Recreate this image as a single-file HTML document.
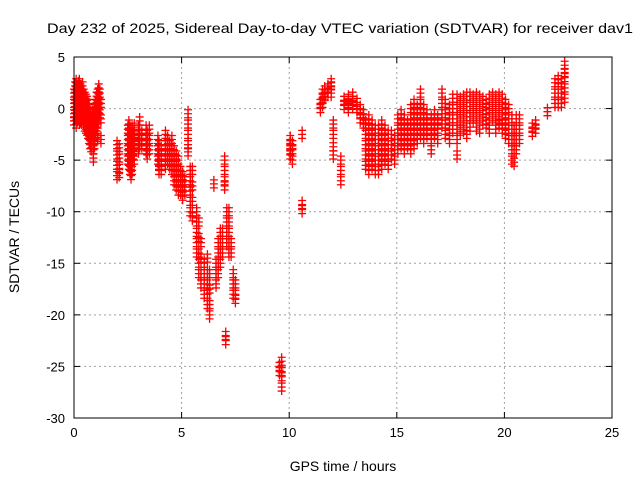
<!DOCTYPE html>
<html><head><meta charset="utf-8"><style>
html,body{margin:0;padding:0;background:#fff;}
svg{display:block;font-family:"Liberation Sans",sans-serif;}
</style></head><body>
<svg id="chart" width="640" height="480" viewBox="0 0 640 480" xmlns="http://www.w3.org/2000/svg">
<rect width="640" height="480" fill="#fff"/>
<text x="340" y="33" font-size="14" text-anchor="middle" textLength="586" lengthAdjust="spacingAndGlyphs">Day 232 of 2025, Sidereal Day-to-day VTEC variation (SDTVAR) for receiver dav1</text>
<text x="0" y="0" font-size="14" text-anchor="middle" transform="translate(19,237) rotate(-90)">SDTVAR / TECUs</text>
<text x="343" y="471" font-size="14" text-anchor="middle">GPS time / hours</text>
<g id="grid"></g><g id="ticks"></g><g id="marks"></g>
<rect x="74" y="57" width="538" height="361" fill="none" stroke="#000" stroke-width="1"/>
</svg>
<script>
const xTicks=[0,5,10,15,20,25];
const yTicks=[5,0,-5,-10,-15,-20,-25,-30];
const hours=[0.00,0.05,0.10,0.15,0.20,0.25,0.30,0.35,0.40,0.45,0.50,0.55,0.60,0.65,0.70,0.75,0.80,0.85,0.90,0.95,1.00,1.05,1.10,1.15,1.20,1.25,
2.00,2.10,2.50,2.55,2.60,2.65,2.70,2.75,2.80,3.00,3.05,3.15,3.35,3.40,3.50,3.90,3.95,4.05,4.25,4.35,4.45,4.55,4.65,4.75,4.85,4.95,5.05,5.15,5.30,5.40,5.50,5.70,5.80,5.90,6.05,6.20,6.30,6.50,6.60,6.70,6.80,6.90,7.00,7.05,7.10,7.20,7.30,7.40,7.50,
9.55,9.65,10.05,10.15,10.6,11.45,11.55,11.65,11.80,11.95,12.05,12.40,12.55,12.75,12.95,13.15,13.30,13.45,13.55,13.70,13.85,14.00,14.15,14.30,14.45,14.60,14.75,14.90,
15.05,15.20,15.35,15.50,15.65,15.80,15.95,16.10,16.25,16.40,16.60,16.75,16.90,17.10,17.25,17.45,17.60,17.80,17.95,18.10,18.25,18.40,18.55,18.70,18.85,19.00,19.15,19.30,19.45,19.60,19.75,19.90,20.05,20.20,20.35,20.45,20.55,20.70,21.30,21.45,22.00,22.35,22.50,22.65,22.80];
const sdtvar=[[1.5,0.5,-0.5,-1.2],[2.2,1.2,0.2,-0.8],[2.5,1.5,0.5,-0.5,-1.5],[2.0,1.0,0,-1.0],[2.3,1.3,0.3,-0.7],[2.5,1.6,0.6,-0.4,-1.2],[2.0,1.0,0,-1.0],[1.8,0.8,-0.2,-1.2],[2.2,1.2,0.2,-0.8],[1.5,0.5,-0.5,-1.4],[1.2,0.2,-0.8,-1.8],[1.0,0,-1.0,-2.0],[0.8,-0.2,-1.2,-2.2],[0.5,-0.5,-1.5,-2.5],[0,-1.0,-2.0,-3.0],[-0.5,-1.5,-2.5,-3.5],[-1,-2,-3,-3.8],[-0.5,-1.5,-2.5],[-1,-2,-3,-4,-4.8],[0,-1,-2,-3.5],[0.5,-0.5,-1.5,-2.5],[1.2,0.2,-0.8,-1.8],[1.5,0.5,-0.5,-1.5,-2.8],[2.0,1.0,0,-1.0],[1.5,0.5,-0.5],[0.5,-1.0,-3],
[-3.5,-4.5,-5.5,-6.5],[-3.8,-4.8,-5.8,-6.3],[-2,-3,-4,-5],[-1.5,-2.5,-3.5,-4.5,-5.5],[-2,-3,-4,-5,-6],[-2.5,-3.5,-4.5,-5.5,-6.5],[-2,-3,-4,-5,-6],[-2.5,-3.5,-4.5],[-1.8,-2.8,-3.8,-5],[-2,-3,-4],[-1.2,-2.5,-3.5],[-2.5,-3.5],[-2,-3,-4],[-2.5,-3.5,-4.5],[-2,-3,-4],[-3,-4,-5],[-3.5,-4.5,-5.5,-6],[-4,-5,-6],[-2.5,-3.5,-4.5,-5.5],[-3,-4,-5],[-3.5,-4.5,-5.5],[-3,-4,-5,-6],[-4,-5,-6,-7],[-4.5,-5.5,-6.5,-7.5],[-5,-6,-7,-8],[-6,-7,-8],[-6.5,-7.5,-8.5],[-7,-8],[-0.5,-1.5,-2.5,-3.5,-4.2],[-6,-7,-8,-9,-10],[-6,-7.5,-9,-10.5],[-10,-11,-12,-13,-14],[-11,-12.5,-14,-15,-16],[-13,-14.5,-16,-17],[-15,-16,-17,-18],[-14.5,-16,-17,-18,-19],[-16,-17.5,-19,-20],[-7.3],[-17,-16,-15],[-16,-15,-14,-13],[-15,-14,-13,-12],[-14,-13,-12],[-5,-6,-7,-7.5],[-22,-22.5],[-13,-12,-11,-10],[-14,-13,-12,-11,-10],[-14,-13],[-16,-17,-18],[-17,-18,-18.5],
[-25,-25.5],[-24.5,-25.5,-26,-27],[-3,-3.5,-4,-4.5],[-3.5,-4,-5],[-2.5,-9.3,-9.8],[0,0.5],[0.5,1,1.5],[1.2,1.8],[1.5,2.0],[1.5,2.5,2.2],[-1.5,-2.5,-3.7,-4.5],[-5,-6,-7],[0.3,0.8],[0.5,1.0,0],[0.3,0.8,1.2],[0.6,0],[0,-0.5,-1],[-0.5,-1,-1.5],[-1.5,-2.5,-3.5,-4.5,-5.5],[-1,-2,-3,-4,-5,-6],[-1.5,-2.5,-3.5,-4.5,-5.5],[-2,-3,-4,-5,-6],[-2,-3,-4,-5,-6],[-1.5,-2.5,-3.5,-4.5,-5.5],[-2,-3,-4,-5],[-2.5,-3.5,-4.5,-5.5],[-2.5,-3.5,-4.5],[-3,-4,-5],
[-1,-2,-3,-4],[-0.5,-1.5,-2.5,-3.5],[-1,-2,-3,-4],[-1.5,-2.5,-3.5],[0,-1,-2,-3,-4],[0.5,-0.5,-1.5,-2.5,-3.5],[0,-1,-2,-3],[1.5,0.5,-0.5,-1.5,-2.5],[0,-1,-2,-3],[-0.5,-1.5,-2.5],[-1,-2,-3,-4],[-0.5,-1.5,-2.5],[-1,-2,-3],[1.5,0.5,-0.5,-1.5],[0.5,-0.5,-1.5,-2.5],[0,-1,-2,-3],[1,0,-1,-2],[1,0,-1,-2,-3,-4.5],[0.8,-0.2,-1.2,-2.2],[1,0,-1,-2],[1.2,0.2,-0.8,-1.8,-2.5],[1.2,0.2,-0.8,-1.8],[1,0,-1],[1.2,0.2,-0.8,-1.8],[1,0,-1,-2],[0.8,-0.2,-1.2],[0.5,-0.5,-1.5],[1,0,-1,-2],[1.2,0.2,-0.8],[1,0,-1,-2],[1.2,0.2,-0.8,-1.5],[1,0,-1,-2],[0.5,-0.5,-1.5,-2.5],[0,-1,-2,-3],[-1,-2,-3,-4,-5],[-2,-3,-4,-5.2],[-1,-2,-3,-4],[-1,-2,-3],[-1.8,-2.3],[-1.5,-2],[-0.3],[0.5,1.5,2.5],[0.5,1.5,2.5,2.8],[0.5,1.5,2.5],[1,2,3,3.5,4.2]];

const NS='http://www.w3.org/2000/svg';
const L=74,R=612,T=57,B=418;
const xs=v=>L+(v-0)/(25-0)*(R-L);
const ys=v=>T+(5-v)/(5-(-30))*(B-T);
const grid=document.getElementById('grid'),ticks=document.getElementById('ticks'),marks=document.getElementById('marks');
function mk(tag,attrs,parent){const e=document.createElementNS(NS,tag);for(const k in attrs)e.setAttribute(k,attrs[k]);parent.appendChild(e);return e;}
xTicks.forEach(t=>{
  const x=xs(t);
  if(t>0&&t<25){const g=mk('line',{x1:x,y1:T,x2:x,y2:B,stroke:'#a0a0a0','stroke-dasharray':'2,3'},grid);
  
  }
  mk('line',{x1:x,y1:B,x2:x,y2:B-6,stroke:'#000'},ticks);
  mk('line',{x1:x,y1:T,x2:x,y2:T+6,stroke:'#000'},ticks);
  const tx=mk('text',{x:x,y:B+19,'font-size':13,'text-anchor':'middle'},ticks);
  tx.textContent=t;
  
  
});
yTicks.forEach(t=>{
  const y=ys(t);
  if(t<5&&t>-30){const g=mk('line',{x1:L,y1:y,x2:R,y2:y,stroke:'#a0a0a0','stroke-dasharray':'2,3'},grid);
  
  }
  mk('line',{x1:L,y1:y,x2:L+6,y2:y,stroke:'#000'},ticks);
  mk('line',{x1:R,y1:y,x2:R-6,y2:y,stroke:'#000'},ticks);
  const tx=mk('text',{x:L-9,y:y+5,'font-size':13,'text-anchor':'end'},ticks);
  tx.textContent=t;
  
  
});
hours.forEach((h,i)=>{
  sdtvar[i].forEach(v=>{
    const x=xs(h),y=ys(v);
    for(const dy of [0,-4,4]){
      const p=mk('path',{d:`M${x-4},${y+dy}h8M${x},${y+dy-4}v8`,stroke:'#ff0000','stroke-width':1.3,fill:'none'},marks);
      
      
    }
  });
});
</script>
</body></html>
